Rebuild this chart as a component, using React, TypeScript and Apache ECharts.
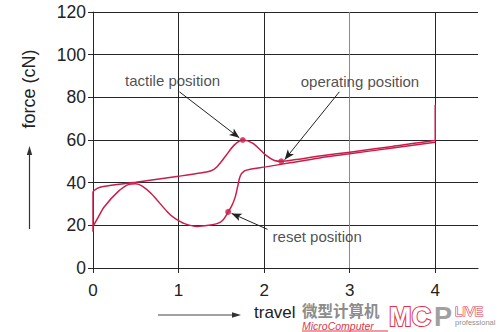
import React, { useEffect, useRef } from 'react';
import * as echarts from 'echarts';

// ---- data ----
const xLabelValues = [0, 1, 2, 3, 4];
const yTickValues = [0, 20, 40, 60, 80, 100, 120];

// press stroke (upper curve): [travel, force]
const pressCurve: [number, number][] = [
  [0, 17], [0, 35.5], [0.05, 37.3], [0.12, 38.2], [0.5, 40.2], [1.0, 43], [1.25, 44.5],
  [1.38, 45.6], [1.45, 47.5], [1.55, 52.5], [1.65, 57.6], [1.75, 60], [1.87, 58.4],
  [2.02, 52.9], [2.12, 50.4], [2.2, 50], [2.35, 50.7], [2.65, 52.5], [3.0, 54.3],
  [3.5, 57], [3.97, 59.6], [4.0, 60], [4.0, 76.5],
];

// release stroke (lower curve)
const releaseCurve: [number, number][] = [
  [4.0, 59], [3.5, 56.3], [3.0, 53.5], [2.65, 51.6], [2.3, 49.3], [2.02, 47.4],
  [1.85, 46.4], [1.77, 45.5], [1.72, 43], [1.69, 38], [1.66, 33], [1.62, 29],
  [1.58, 26.3], [1.52, 22.5], [1.45, 20.8], [1.35, 20], [1.22, 19.5], [1.07, 20.8],
  [0.95, 23.5], [0.87, 26.3], [0.68, 34.9], [0.58, 38.3], [0.5, 39.5], [0.42, 39.2],
  [0.29, 35.7], [0.13, 28.6], [0.05, 23], [0, 19.5],
];

const keyPointNames = ['tactile', 'operating', 'reset'];
const keyPointValues: [number, number][] = [[1.75, 60], [2.2, 50], [1.58, 26.3]];

const noteLabels = ['tactile position', 'operating position', 'reset position'];
const notePositions: [number, number][] = [[0.93, 87.8], [3.12, 87.4], [2.62, 14.8]];
const arrowStarts: [number, number][] = [[1.01, 82.6], [2.88, 82.6], [2.04, 18.1]];
const arrowEnds: [number, number][] = [[1.71, 61], [2.24, 50.8], [1.62, 25.6]];

const RED = '#c81e4b';
const INK = '#222';
const GRID = '#262626';
const FONT = 'Liberation Sans, Arial, Helvetica, sans-serif';

export default function App() {
  const ref = useRef<HTMLDivElement>(null);

  useEffect(() => {
    if (!ref.current) return;
    const chart = echarts.init(ref.current, null, { renderer: 'svg' });
    const gridColors = [GRID, GRID, GRID, '#8a8a8a', GRID, GRID, GRID, GRID, GRID, GRID];
    chart.setOption({
      animation: false,
      backgroundColor: '#fff',
      textStyle: { fontFamily: FONT },
      grid: { left: 93, right: 22, top: 12, bottom: 64 },
      xAxis: {
        type: 'value',
        min: 0,
        max: 4.5,
        interval: 0.5,
        axisLine: { show: true, lineStyle: { color: GRID, width: 1 } },
        axisTick: { show: true, length: 5, customValues: xLabelValues, lineStyle: { color: GRID } },
        axisLabel: {
          customValues: xLabelValues,
          color: INK,
          fontSize: 17,
          margin: 14,
          fontFamily: FONT,
        },
        splitLine: { show: true, lineStyle: { color: gridColors, width: 1 } },
      },
      yAxis: {
        type: 'value',
        min: 0,
        max: 120,
        interval: 20,
        axisLine: { show: true, lineStyle: { color: GRID, width: 1 } },
        axisTick: { show: true, length: 5, customValues: yTickValues, lineStyle: { color: GRID } },
        axisLabel: { color: INK, fontSize: 17.5, margin: 7, fontFamily: FONT },
        splitLine: { show: true, lineStyle: { color: GRID, width: 1 } },
      },
      series: [
        {
          type: 'line',
          name: 'press',
          data: pressCurve,
          smooth: 0.3,
          symbol: 'none',
          lineStyle: { color: RED, width: 1.5 },
          z: 3,
        },
        {
          type: 'line',
          name: 'release',
          data: releaseCurve,
          smooth: 0.3,
          symbol: 'none',
          lineStyle: { color: RED, width: 1.5 },
          z: 3,
        },
        {
          type: 'scatter',
          name: 'points',
          data: keyPointValues.map((v, i) => ({ name: keyPointNames[i], value: v })),
          symbolSize: 6,
          itemStyle: { color: RED },
          z: 4,
        },
        {
          type: 'scatter',
          name: 'notes',
          data: notePositions.map((v, i) => ({ name: noteLabels[i], value: v })),
          symbolSize: 1,
          itemStyle: { color: 'rgba(0,0,0,0)' },
          label: {
            show: true,
            position: 'inside',
            formatter: (p: any) => p.name,
            color: INK,
            fontSize: 15,
            fontFamily: FONT,
          },
          z: 5,
          markLine: {
            silent: true,
            symbol: ['none', 'arrow'],
            symbolSize: [6, 10],
            label: { show: false },
            lineStyle: { color: INK, width: 1, type: 'solid' },
            data: arrowStarts.map((s, i) => [{ coord: s }, { coord: arrowEnds[i] }]),
          },
        },
      ],
      graphic: [
        // y axis name + arrow
        {
          type: 'text',
          x: 29,
          y: 89,
          rotation: Math.PI / 2,
          style: {
            text: 'force (cN)',
            fill: INK,
            font: `18px ${FONT}`,
            align: 'center',
            verticalAlign: 'middle',
          },
        },
        {
          type: 'line',
          shape: { x1: 29.5, y1: 229, x2: 29.5, y2: 153 },
          style: { stroke: '#333', lineWidth: 1.2 },
        },
        {
          type: 'polygon',
          shape: { points: [[29.5, 146], [26.8, 155], [32.2, 155]] },
          style: { fill: '#333' },
        },
        // x axis name + arrow
        {
          type: 'text',
          x: 254,
          y: 312,
          style: {
            text: 'travel',
            fill: INK,
            font: `17px ${FONT}`,
            align: 'left',
            verticalAlign: 'middle',
          },
        },
        {
          type: 'line',
          shape: { x1: 158, y1: 315, x2: 234, y2: 315 },
          style: { stroke: '#444', lineWidth: 1.2 },
        },
        {
          type: 'polygon',
          shape: { points: [[241, 315], [232, 312.3], [232, 317.7]] },
          style: { fill: '#333' },
        },
        // watermark
        {
          type: 'text',
          x: 302,
          y: 309.5,
          style: {
            text: '微型计算机',
            fill: '#8c8c8c',
            font: `bold 15.5px "Noto Sans CJK SC", sans-serif`,
            align: 'left',
            verticalAlign: 'middle',
          },
        },
        {
          type: 'text',
          x: 302,
          y: 326,
          style: {
            text: 'MicroComputer',
            fill: '#d83a4a',
            font: `italic 10.5px ${FONT}`,
            align: 'left',
            verticalAlign: 'middle',
          },
        },
        {
          type: 'line',
          shape: { x1: 302, y1: 331, x2: 388, y2: 331 },
          style: { stroke: '#d83a4a', lineWidth: 1 },
        },
        {
          type: 'text',
          x: 389,
          y: 316.5,
          style: {
            text: 'MC',
            fill: '#fff',
            stroke: '#e0324a',
            lineWidth: 2,
            font: `bold 27px ${FONT}`,
            align: 'left',
            verticalAlign: 'middle',
          },
        },
        {
          type: 'text',
          x: 434,
          y: 316.5,
          style: {
            text: 'P',
            fill: '#a0a0a0',
            font: `bold 27px ${FONT}`,
            align: 'left',
            verticalAlign: 'middle',
          },
        },
        {
          type: 'text',
          x: 455,
          y: 311,
          style: {
            text: 'LIVE',
            fill: '#fff',
            stroke: '#e0324a',
            lineWidth: 1.2,
            font: `13px ${FONT}`,
            align: 'left',
            verticalAlign: 'middle',
          },
        },
        {
          type: 'text',
          x: 455,
          y: 322,
          style: {
            text: 'professional',
            fill: '#909090',
            font: `7.5px ${FONT}`,
            align: 'left',
            verticalAlign: 'middle',
          },
        },
      ],
    });
    return () => chart.dispose();
  }, []);

  return (
    <div
      ref={ref}
      style={{ position: 'fixed', left: 0, top: 0, width: 500, height: 332, background: '#fff' }}
    />
  );
}
